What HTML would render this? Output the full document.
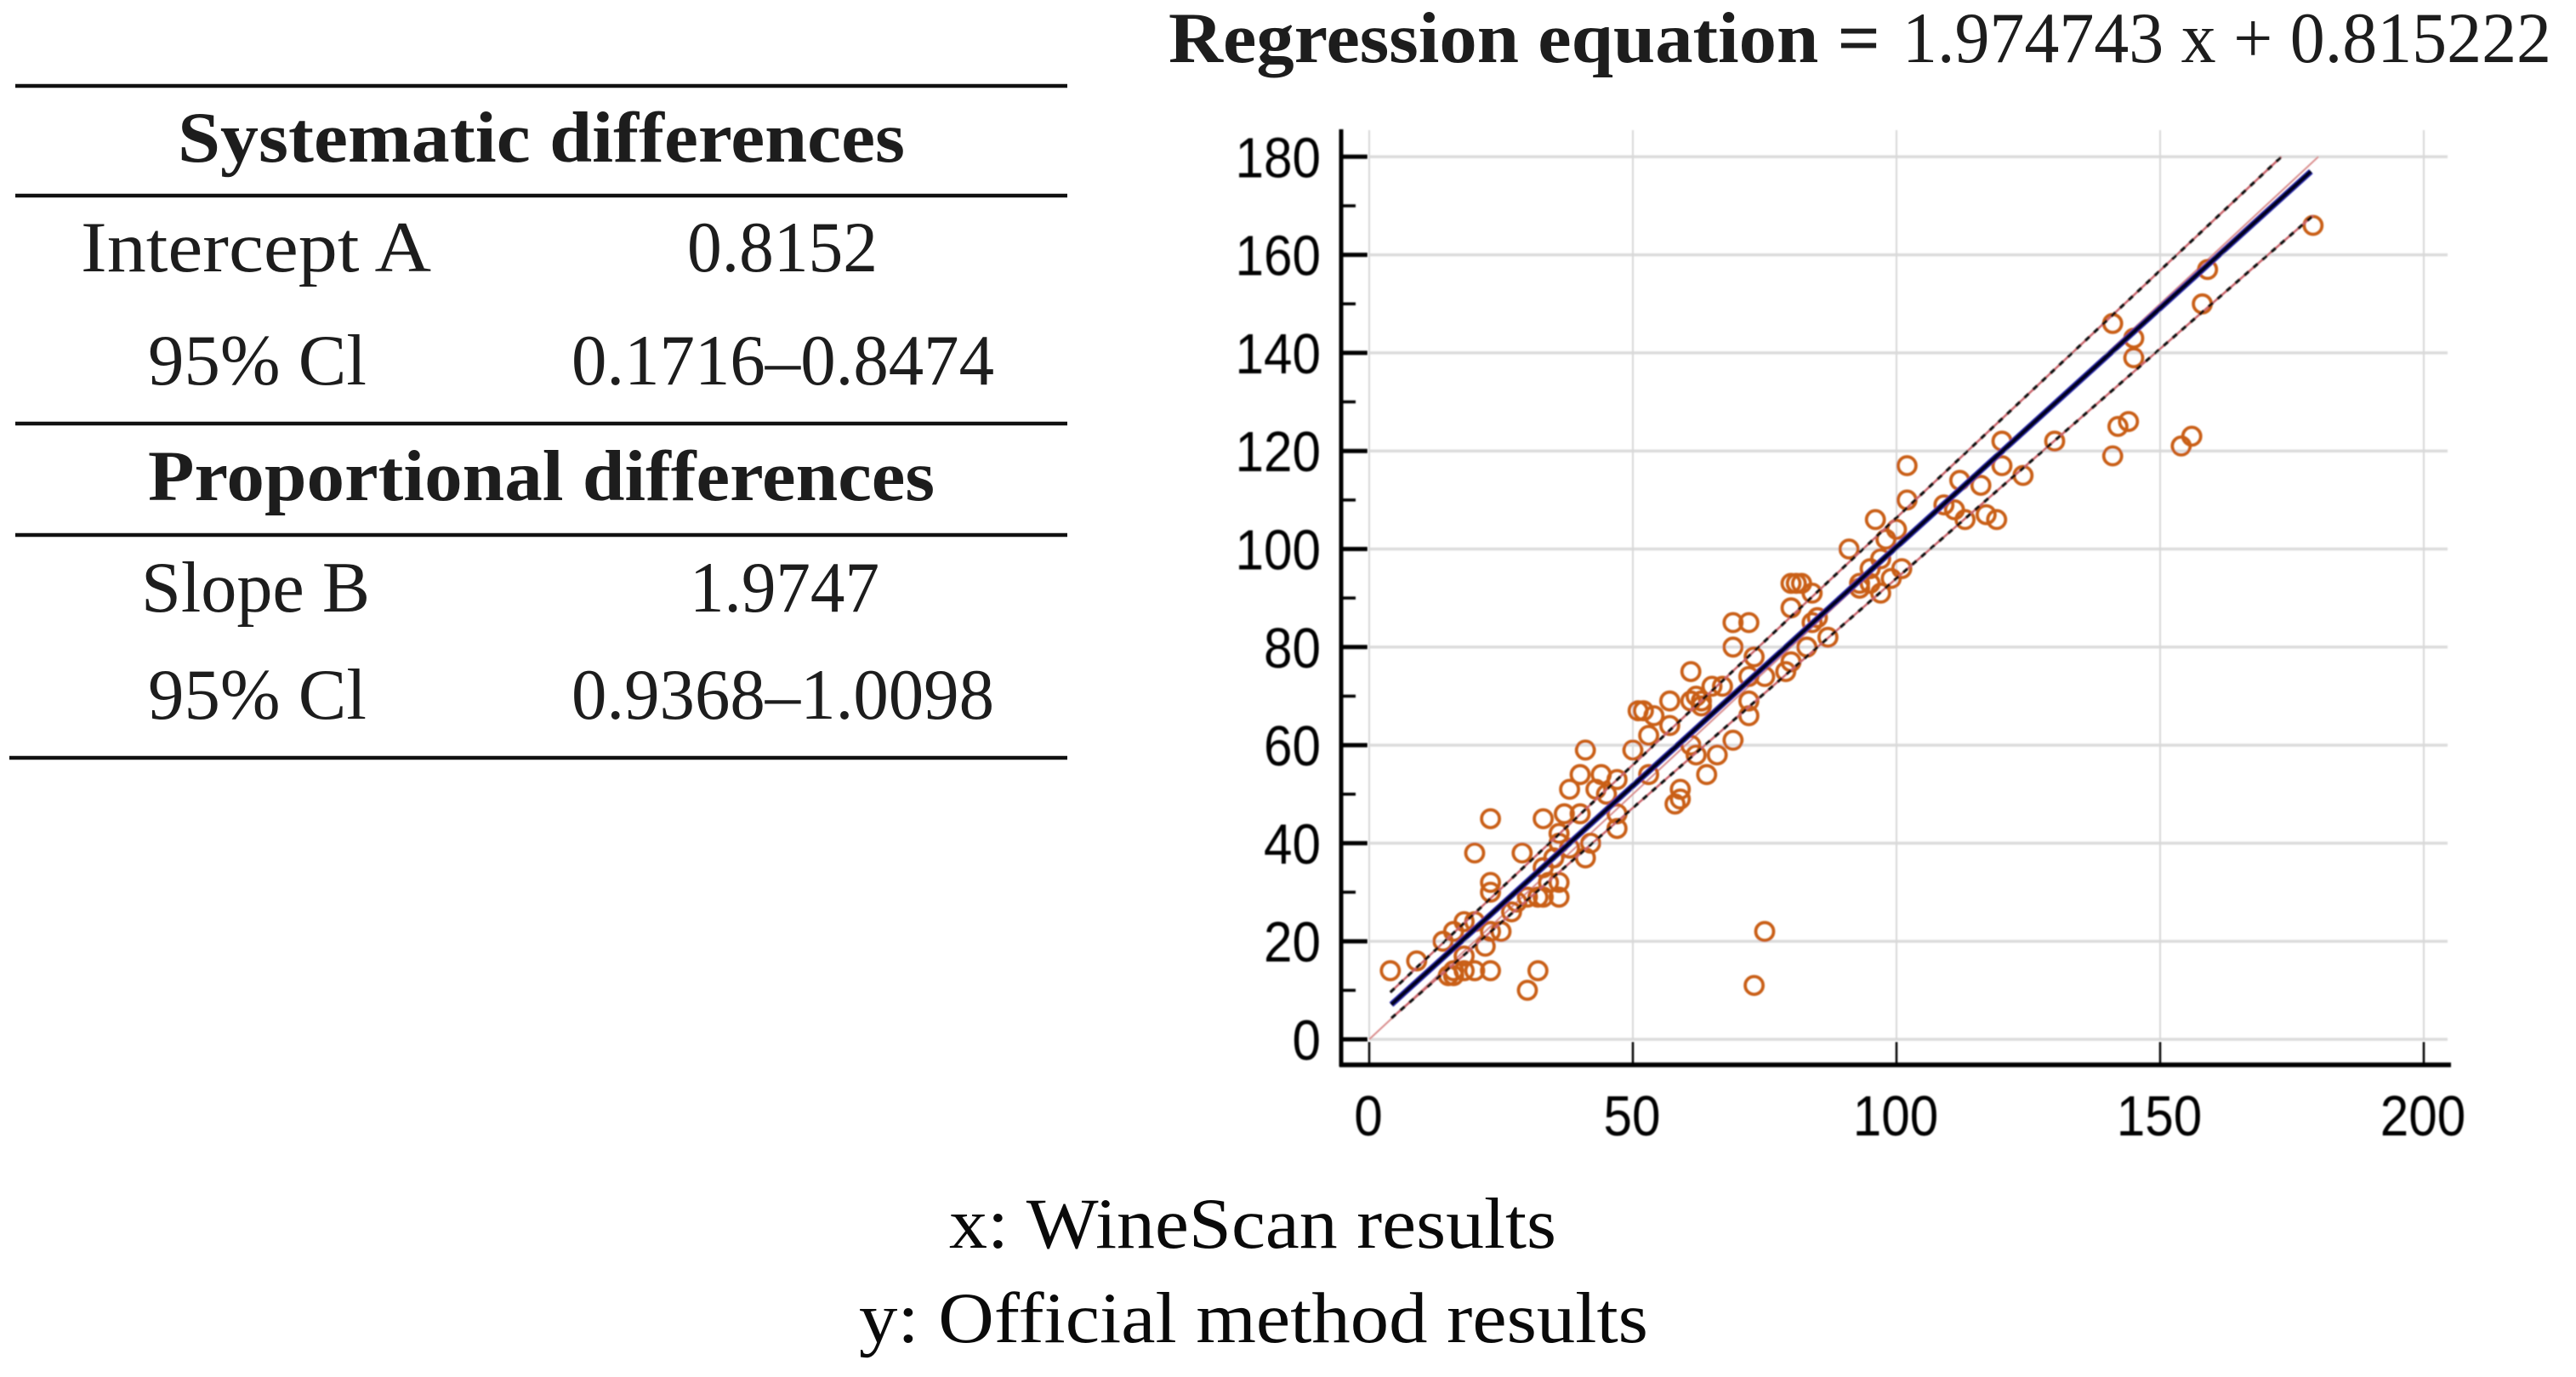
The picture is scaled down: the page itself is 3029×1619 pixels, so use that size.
<!DOCTYPE html>
<html lang="en">
<head>
<meta charset="utf-8">
<title>Passing-Bablok regression: WineScan vs official method</title>
<style>
html,body{margin:0;padding:0;background:#fff;}
svg{display:block;}
.tbl{font-family:"Liberation Serif",serif;font-size:85px;fill:#1d1d1d;}
.bold{font-weight:bold;}
.tick{font-family:"Liberation Sans",sans-serif;font-size:67px;fill:#050505;}
.cap{font-family:"Liberation Serif",serif;font-size:85px;fill:#0a0a0a;}
</style>
</head>
<body>
<svg id="root" xmlns="http://www.w3.org/2000/svg" width="3029" height="1619" viewBox="0 0 3029 1619">
  <defs>
    <filter id="soft" filterUnits="userSpaceOnUse" x="1400" y="120" width="1629" height="1260">
      <feGaussianBlur stdDeviation="0.7"/>
    </filter>
  </defs>

  <rect x="0" y="0" width="3029" height="1619" fill="#ffffff"/>

  <text x="1374" y="73" class="tbl bold" textLength="837" lengthAdjust="spacingAndGlyphs">Regression equation =</text>
  <text x="2237" y="73" class="tbl" textLength="763" lengthAdjust="spacingAndGlyphs">1.974743 x + 0.815222</text>

  <g>
    <line x1="18" y1="101" x2="1255" y2="101" stroke="#111" stroke-width="4.5"/>
    <line x1="18" y1="230" x2="1255" y2="230" stroke="#111" stroke-width="4.5"/>
    <line x1="18" y1="498" x2="1255" y2="498" stroke="#111" stroke-width="4.5"/>
    <line x1="18" y1="629" x2="1255" y2="629" stroke="#111" stroke-width="4.5"/>
    <line x1="11" y1="891" x2="1255" y2="891" stroke="#111" stroke-width="4.5"/>

    <text x="209" y="190" class="tbl bold" textLength="855" lengthAdjust="spacingAndGlyphs">Systematic differences</text>
    <text x="95" y="319" class="tbl" textLength="412" lengthAdjust="spacingAndGlyphs">Intercept A</text>
    <text x="808" y="319" class="tbl" textLength="224" lengthAdjust="spacingAndGlyphs">0.8152</text>
    <text x="174" y="452" class="tbl" textLength="257" lengthAdjust="spacingAndGlyphs">95% Cl</text>
    <text x="672" y="452" class="tbl" textLength="497" lengthAdjust="spacingAndGlyphs">0.1716–0.8474</text>

    <text x="174" y="588" class="tbl bold" textLength="925" lengthAdjust="spacingAndGlyphs">Proportional differences</text>
    <text x="166" y="719" class="tbl" textLength="269" lengthAdjust="spacingAndGlyphs">Slope B</text>
    <text x="811" y="719" class="tbl" textLength="223" lengthAdjust="spacingAndGlyphs">1.9747</text>
    <text x="174" y="845" class="tbl" textLength="257" lengthAdjust="spacingAndGlyphs">95% Cl</text>
    <text x="672" y="845" class="tbl" textLength="497" lengthAdjust="spacingAndGlyphs">0.9368–1.0098</text>
  </g>

  <g id="plot" filter="url(#soft)"></g>

  <text x="1116" y="1467" class="cap" textLength="714" lengthAdjust="spacingAndGlyphs">x: WineScan results</text>
  <text x="1010" y="1578" class="cap" textLength="928" lengthAdjust="spacingAndGlyphs">y: Official method results</text>
</svg>

<script>
const xTickLabels = [0, 50, 100, 150, 200];
const yTickLabels = [0, 20, 40, 60, 80, 100, 120, 140, 160, 180];
const yMinorTicks = [10, 30, 50, 70, 90, 110, 130, 150, 170];

const pointX = [4,9,14,15,16,16,18,20,23,18,16,22,23,25,27,20,18,23,23,20,23,29,33,37,40,36,36,38,40,41,44,43,47,45,42,41,38,33,36,36,33,32,34,30,35,28,53,47,47,58,59,59,64,66,69,62,61,50,53,30,32,73,75,102,102,120,120,124,112,116,109,111,113,117,119,96,91,100,98,97,95,93,93,95,101,99,97,80,81,82,84,80,85,84,69,72,69,73,87,83,80,79,61,75,72,67,65,57,61,63,62,63,51,52,54,57,72,72,179,159,158,141,145,145,144,142,156,154,141,130];
const pointY = [14,16,20,13,13,14,14,14,14,24,22,19,22,22,26,24,17,32,30,38,45,38,45,46,46,42,40,51,54,59,54,51,53,50,40,37,39,35,32,29,29,29,32,29,37,28,54,46,43,48,49,51,54,58,61,58,60,59,62,10,14,11,22,117,110,122,117,115,114,113,109,108,106,107,106,106,100,104,102,98,96,93,92,93,96,94,91,93,93,93,91,88,86,85,85,85,80,78,82,80,77,75,75,74,74,72,72,69,69,69,70,68,67,67,66,64,69,66,166,157,150,146,143,139,126,125,123,121,119,122];

const identityX = [0, 180];
const identityY = [0, 180];
const regressionX = [4.2, 178.6];
const regressionY = [7.1, 177];
const upperCiX = [4, 173];
const upperCiY = [9.6, 180];
const lowerCiX = [4.2, 179];
const lowerCiY = [4.3, 168];

function xScale(v) { return 1610 + v * 6.2; }
function yScale(v) { return 1222 - v * 5.765; }

const NS = 'http://www.w3.org/2000/svg';
const plot = document.getElementById('plot');

function make(tag, attrs) {
  const el = document.createElementNS(NS, tag);
  for (const k in attrs) el.setAttribute(k, attrs[k]);
  plot.appendChild(el);
  return el;
}

function linePath(xs, ys) {
  return xs.map(function (x, i) {
    return (i ? 'L' : 'M') + xScale(x).toFixed(1) + ' ' + yScale(ys[i]).toFixed(1);
  }).join(' ');
}

yTickLabels.forEach(function (t) {
  const g = make('line', { x1: xScale(0), x2: 2878, y1: yScale(t), y2: yScale(t), stroke: '#dcdcdc', 'stroke-width': 3.5 });
  
  
});

xTickLabels.forEach(function (t) {
  const g = make('line', { x1: xScale(t), x2: xScale(t), y1: 153, y2: yScale(0), stroke: '#d8d8d8', 'stroke-width': 2 });
  
  
});

const pinkLine = make('path', { d: linePath(identityX, identityY), fill: 'none', stroke: '#d98b8b', 'stroke-width': 2 });



pointX.forEach(function (x, i) {
  const c = make('circle', { cx: xScale(x).toFixed(1), cy: yScale(pointY[i]).toFixed(1), r: 10.5, fill: 'none', stroke: '#c95f17', 'stroke-width': 3.8 });
  
  
});

const upperBase = make('path', { d: linePath(upperCiX, upperCiY), fill: 'none', stroke: '#c9636b', 'stroke-width': 2.5 });


const upperDash = make('path', { d: linePath(upperCiX, upperCiY), fill: 'none', stroke: '#111', 'stroke-width': 3.2, 'stroke-dasharray': '7 7' });



const lowerBase = make('path', { d: linePath(lowerCiX, lowerCiY), fill: 'none', stroke: '#c9636b', 'stroke-width': 2.5 });


const lowerDash = make('path', { d: linePath(lowerCiX, lowerCiY), fill: 'none', stroke: '#111', 'stroke-width': 3.2, 'stroke-dasharray': '7 7' });



const regBlue = make('path', { d: linePath(regressionX, regressionY), fill: 'none', stroke: '#2a2ab0', 'stroke-width': 7 });


const regBlack = make('path', { d: linePath(regressionX, regressionY), fill: 'none', stroke: '#05051a', 'stroke-width': 4.5 });



const yAxis = make('line', { x1: 1577, x2: 1577, y1: 152, y2: 1254, stroke: '#000', 'stroke-width': 5 });


const xAxis = make('line', { x1: 1575, x2: 2882, y1: 1252, y2: 1252, stroke: '#000', 'stroke-width': 5.5 });



yTickLabels.forEach(function (t) {
  const m = make('line', { x1: 1577, x2: 1608, y1: yScale(t), y2: yScale(t), stroke: '#000', 'stroke-width': 5 });
  
  
  const l = make('text', { x: 1553, y: yScale(t) + 24, 'text-anchor': 'end', class: 'tick', textLength: String(t).length * 33.5, lengthAdjust: 'spacingAndGlyphs' });
  
  
  l.textContent = t;
});

yMinorTicks.forEach(function (t) {
  const m = make('line', { x1: 1577, x2: 1594, y1: yScale(t), y2: yScale(t), stroke: '#000', 'stroke-width': 3.5 });
  
  
});

xTickLabels.forEach(function (t) {
  const m = make('line', { x1: xScale(t), x2: xScale(t), y1: 1225, y2: 1252, stroke: '#000', 'stroke-width': 2.5 });
  
  
  const l = make('text', { x: xScale(t) - 1, y: 1335, 'text-anchor': 'middle', class: 'tick', textLength: String(t).length * 33.5, lengthAdjust: 'spacingAndGlyphs' });
  
  
  l.textContent = t;
});
</script>
</body>
</html>
